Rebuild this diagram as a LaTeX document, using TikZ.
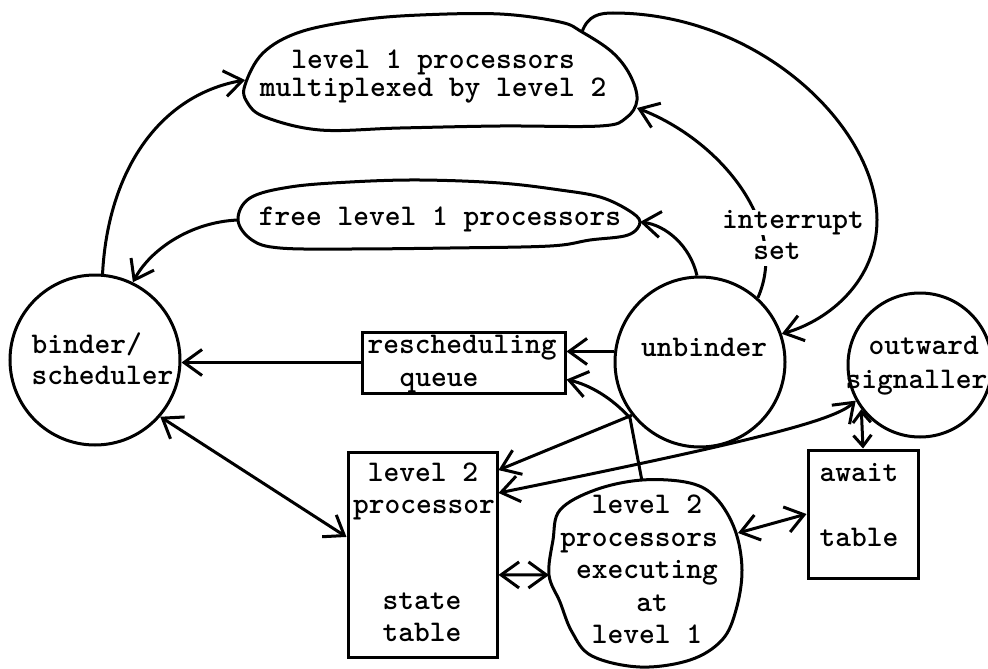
\documentclass[tikz,border=0pt]{standalone}
\usepackage{fontspec}
\usetikzlibrary{arrows.meta,calc}
\begin{document}
\begin{tikzpicture}[x=1pt,y=-1pt, line width=3pt,
  >={Straight Barb[length=18pt,width=26pt]},
  lbl/.style={font=\ttfamily\bfseries\fontsize{30}{34}\selectfont, text height=19pt, text depth=6pt, inner sep=0pt},
  circ/.style={draw, circle, inner sep=0pt},
  boxn/.style={draw, rectangle, inner sep=0pt},
  blob/.style={draw, line width=3pt},
  conn/.style={line width=3pt},
  small tips/.style={>={Straight Barb[length=11pt,width=18pt]}}]
\useasboundingbox (0,0) rectangle (988,669);
\clip (0,0) rectangle (988,669);

% circles and boxes
\node[circ, minimum size=170pt] (binder) at (95,360) {};
\node[circ, minimum size=170pt] (unb) at (700,362) {};
\node[circ, minimum size=144pt] (sig) at (920,365) {};
\node[boxn, minimum width=203pt, minimum height=61pt] (rq) at (463.5,362.5) {};
\node[boxn, minimum width=149pt, minimum height=205pt] (l2) at (422.5,554.5) {};
\node[boxn, minimum width=110pt, minimum height=128pt] (aw) at (863,514) {};

% blobs
\draw[blob] plot[smooth cycle, tension=0.6] coordinates {(245,85) (263,53) (300,32) (360,20) (420,15) (500,14) (560,22) (582,32) (612,52) (630,75) (637,100) (626,118) (600,126) (500,126) (400,128) (320,130) (265,117) (247,102)};
\draw[blob] plot[smooth cycle, tension=0.6] coordinates {(238,220) (250,198) (290,187) (350,182) (420,180) (500,183) (560,190) (600,197) (628,210) (640,222) (628,235) (590,240) (550,246) (450,248) (350,249) (280,248) (252,240)};
\draw[blob] plot[smooth cycle, tension=0.6] coordinates {(642,480) (690,483) (716,498) (735,530) (742,570) (736,610) (722,640) (690,660) (640,667) (592,656) (572,632) (560,602) (549,575) (553,540) (560,510) (595,490)};

% connector end points on blobs
\coordinate (topL) at (245,80);
\coordinate (topR) at (637,108);
\coordinate (topT) at (582,32);
\coordinate (freeL) at (238,220);
\coordinate (freeR) at (640,222);
\coordinate (exT) at (642,481);
\coordinate (exR) at (738,533);
\coordinate (exL) at (549,575);
\coordinate (bend) at (630,418);
\coordinate (rqlow) at ($(rq.south east)+(0,-15)$);

% connectors
\draw[conn,->] (binder.85) .. controls (108,170) and (160,95) .. (topL);
\draw[conn,->] (freeL) .. controls (190,222) and (150,250) .. (binder.64);
\draw[conn,->] (rq.west) -- (rq.west -| binder.east);
\draw[conn,<->] (binder.-41) -- (l2.167);
\draw[conn,->] (unb.173) -- (unb.173 -| rq.east);
\draw[conn,->] (exT) -- (bend) .. controls (612,398) and (590,385) .. (rqlow);
\draw[conn,->] (unb.218) -- (l2.48.6);
\draw[conn,<->] (l2.39.6) .. controls (760,440) and (835,420) .. (sig.209);
\draw[conn,small tips,<->] (sig.217) -- (aw.north);
\draw[conn,<->] (exR) -- (aw.west);
\draw[conn,<->] (l2.-15.2) -- (exL);
\draw[conn,->] (unb.92) .. controls (690,245) and (665,225) .. (freeR);
\draw[conn,->] (unb.48) .. controls (790,225) and (720,140) .. (topR);
\draw[conn,->] (topT) .. controls (588,15) and (600,13) .. (613,13) .. controls (759,13) and (877,127) .. (877,220) .. controls (877,280) and (830,320) .. (unb.19);

% labels
\node[lbl] (t1) at (433,62) {level 1 processors};
\node[lbl] (t2) at (433,90) {multiplexed by level 2};
\node[lbl] (t3) at (440,219) {free level 1 processors};
\node[lbl, fill=white, inner xsep=2pt] (t4) at (793,222) {interrupt};
\node[lbl, fill=white, inner xsep=2pt] (t5) at (777,253) {set};
\node[lbl, anchor=west] (t6) at (30,347) {binder/};
\node[lbl, anchor=west] (t7) at (30,378) {scheduler};
\node[lbl] (t8) at (462,347) {rescheduling};
\node[lbl] (t9) at (439,380) {queue};
\node[lbl] (t10) at (704,350) {unbinder};
\node[lbl, anchor=west] (t11) at (867,348) {outward};
\node[lbl, anchor=west] (t12) at (844,382) {signaller};
\node[lbl] (t13) at (423,475) {level 2};
\node[lbl] (t14) at (424,507) {processor};
\node[lbl] (t15) at (422,603) {state};
\node[lbl] (t16) at (422,635) {table};
\node[lbl, anchor=west] (t17) at (818,475) {await};
\node[lbl, anchor=west] (t18) at (818,540) {table};
\node[lbl] (t19) at (647,507) {level 2};
\node[lbl] (t20) at (639,540) {processors};
\node[lbl] (t21) at (647,572) {executing};
\node[lbl] (t22) at (652,605) {at};
\node[lbl] (t23) at (647,637) {level 1};
\end{tikzpicture}
\end{document}
